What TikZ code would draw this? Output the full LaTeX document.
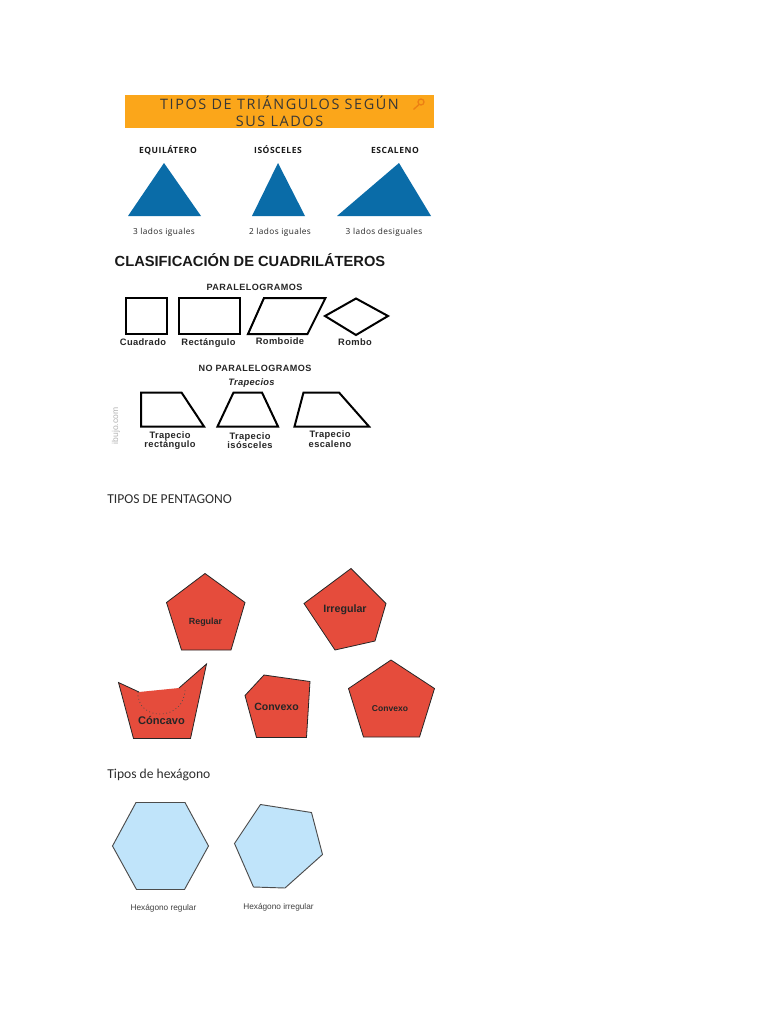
\documentclass[tikz,border=0pt]{standalone}
\usepackage{fontspec}
\setmainfont{Carlito}
\newfontfamily\opensans{Open Sans}
\newfontfamily\arialfont{Liberation Sans}
\usepackage{xcolor}
\usepackage{tikz}
\usetikzlibrary{positioning}

\definecolor{bannerorange}{RGB}{251,166,26}
\definecolor{bannertext}{RGB}{55,55,55}
\definecolor{triblue}{RGB}{10,108,168}
\definecolor{pentared}{RGB}{229,76,60}
\definecolor{hexblue}{RGB}{192,228,250}
\definecolor{doctext}{RGB}{45,45,45}

\begin{document}
\begin{tikzpicture}[
  x=0.75pt, y=-0.75pt,
  every node/.style={inner sep=0pt, align=center},
  oneline/.style={text height=1.5ex, text depth=.3ex},
  banner/.style={fill=bannerorange, minimum width=231.75pt, minimum height=24.75pt, text=bannertext,
    font=\opensans\fontsize{10.8}{12.6}\selectfont\addfontfeature{LetterSpace=11}},
  trihead/.style={oneline, font=\opensans\bfseries\fontsize{6.4}{7}\selectfont\addfontfeature{LetterSpace=6}, text=black!90},
  trinote/.style={oneline, font=\opensans\fontsize{6.2}{7}\selectfont\addfontfeature{LetterSpace=5}, text=black!85},
  tri/.style={fill=triblue},
  quad/.style={draw=black, line width=1.5pt, line join=miter},
  quadhead/.style={oneline, font=\arialfont\bfseries\fontsize{6.8}{7}\selectfont\addfontfeature{LetterSpace=5}, text=black!85},
  quadname/.style={oneline, font=\arialfont\bfseries\fontsize{7}{7}\selectfont\addfontfeature{LetterSpace=4}, text=black!85},
  trapname/.style={font=\arialfont\bfseries\fontsize{7}{#1}\selectfont\addfontfeature{LetterSpace=4}, text=black!85},
  doctitle/.style={anchor=west, font=\fontsize{10.2}{12}\selectfont, text=doctext},
  penta/.style={fill=pentared, draw=black!85, line width=0.6pt, line join=miter},
  pentaname/.style={oneline, font=\arialfont\bfseries\fontsize{#1}{#1}\selectfont, text=black!85},
  hexa/.style={fill=hexblue, draw=black!70, line width=0.7pt},
  hexaname/.style={oneline, font=\arialfont\fontsize{6.2}{7}\selectfont, text=black!75}
]
\useasboundingbox (0,0) rectangle (768,1024);
\fill[white] (0,0) rectangle (768,1024);

% triangulos
\node[banner] (banner) at (279.5,111.5) {TIPOS DE TRIÁNGULOS SEGÚN\\SUS LADOS};
\draw[draw=orange!70!brown, line width=1pt] (421,102) circle (3) (419,104.5) -- (413.5,109.5);

\node[trihead] (equi) at (168,150) {EQUILÁTERO};
\node[trihead] (isos) at (278,150) {ISÓSCELES};
\node[trihead] (esca) at (395,150) {ESCALENO};

\fill[tri] (164,163) -- (128,216) -- (201,216) -- cycle;
\fill[tri] (278,163) -- (252,216) -- (305,216) -- cycle;
\fill[tri] (399,163) -- (337,216) -- (431,216) -- cycle;

\node[trinote] (equinote) at (164,231) {3 lados iguales};
\node[trinote] (isosnote) at (280,231) {2 lados iguales};
\node[trinote] (escanote) at (384,231) {3 lados desiguales};

% cuadrilateros
\node[font=\arialfont\bfseries\fontsize{11}{12}\selectfont, text=black!90] (quadtitle) at (250,260) {CLASIFICACIÓN DE CUADRILÁTEROS};
\node[quadhead] (paral) at (254.5,286.5) {PARALELOGRAMOS};

\draw[quad] (126,298) rectangle (167,334);
\draw[quad] (179,298) rectangle (240,334);
\draw[quad] (264,298) -- (325.5,298) -- (307.5,334) -- (248,334) -- cycle;
\draw[quad] (325,316) -- (356,298.5) -- (388,316) -- (356,335) -- cycle;

\node[quadname] (cuadrado) at (143,342) {Cuadrado};
\node[quadname] (rectangulo) at (208.5,342) {Rectángulo};
\node[quadname] (romboide) at (280,340.5) {Romboide};
\node[quadname] (rombo) at (355,342) {Rombo};

\node[quadhead] (noparal) at (255,368) {NO PARALELOGRAMOS};
\node[quadname, font=\arialfont\bfseries\itshape\fontsize{7}{7}\selectfont\addfontfeature{LetterSpace=3}] (trapecios) at (251.5,382) {Trapecios};

\draw[quad] (141,392.5) -- (181.5,392.5) -- (204,426.5) -- (141,426.5) -- cycle;
\draw[quad] (217.5,426.5) -- (233.5,392.5) -- (262,392.5) -- (278,426.5) -- cycle;
\draw[quad] (294.5,426.5) -- (303.5,392.5) -- (339,392.5) -- (369,426.5) -- cycle;

\node[trapname=6.6] (traprect) at (170,441) {Trapecio\\rectángulo};
\node[trapname=6.6] (trapisos) at (250,441) {Trapecio\\isósceles};
\node[trapname=6.0] (trapesca) at (330,439) {Trapecio\\escaleno};

\node[rotate=90, font=\arialfont\fontsize{6.4}{7}\selectfont, text=black!30] (marca) at (116,426) {ibujo.com};

% pentagonos
\node[doctitle] (pentatitle) at (107,499) {TIPOS DE PENTAGONO};

\draw[penta] (205,573.5) -- (245,602.5) -- (231,650) -- (181.5,650) -- (166.5,602.5) -- cycle;
\node[pentaname=6.7] (regular) at (205.5,620.5) {Regular};

\draw[penta] (351,568.5) -- (386,603.5) -- (375,641) -- (335,650) -- (304,603.5) -- cycle;
\node[pentaname=8] (irregular) at (345,609) {Irregular};

\fill[pentared] (118.5,682.5) -- (139,692) -- (179,688) -- (206.5,664) -- (190.5,738.5) -- (133.5,738.5) -- cycle;
\draw[draw=black!85, line width=0.6pt, line join=miter] (139,692) -- (118.5,682.5) -- (133.5,738.5) -- (190.5,738.5) -- (206.5,664) -- (179,688);
\draw[black!70, dotted, line width=0.6pt] (138,692) .. controls (136,722) and (186,722) .. (185,688);
\node[pentaname=8.3] (concavo) at (161.5,721) {Cóncavo};

\draw[penta] (264,675) -- (310,681.5) -- (306.5,737.5) -- (256.5,737.5) -- (245,695.5) -- cycle;
\node[pentaname=7.9] (convexo) at (276.5,706.5) {Convexo};

\draw[penta] (391,660) -- (434.5,688.5) -- (419.5,737) -- (363.5,737) -- (348.5,688.5) -- cycle;
\node[pentaname=6.4] (convexoreg) at (390,707.5) {Convexo};

% hexagonos
\node[doctitle] (hexatitle) at (107,775) {Tipos de hexágono};

\draw[hexa] (136,802.5) -- (185,802.5) -- (208.5,846) -- (184.5,889.5) -- (136.5,889.5) -- (112.5,846) -- cycle;
\draw[hexa] (260.5,804.5) -- (311.5,812.5) -- (322.5,854.5) -- (285,888) -- (253.5,887) -- (234.5,843.5) -- cycle;

\node[hexaname] (hexreg) at (163.5,907) {Hexágono regular};
\node[hexaname] (hexirreg) at (278.5,906) {Hexágono irregular};
\end{tikzpicture}
\end{document}
